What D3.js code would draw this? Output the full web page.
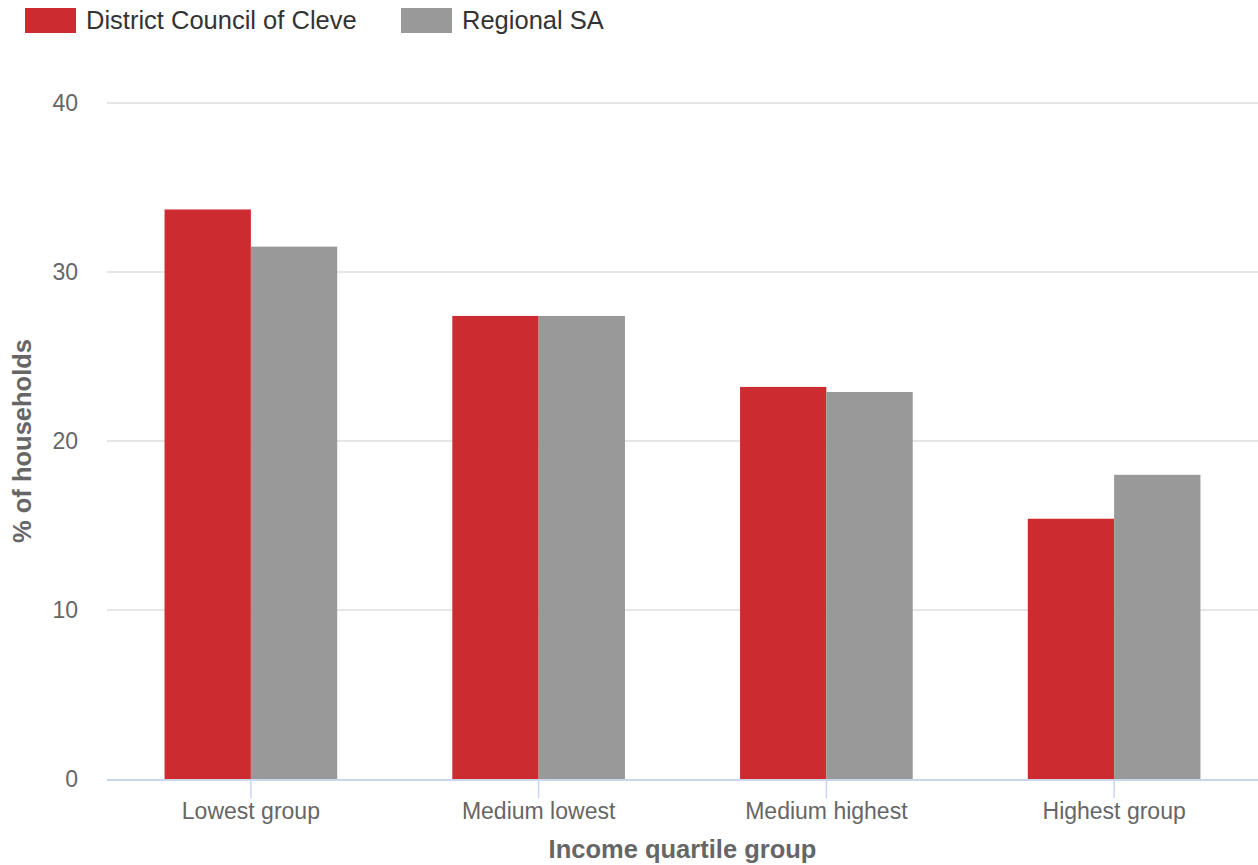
<!DOCTYPE html>
<html>
<head>
<meta charset="utf-8">
<script src="https://cdn.jsdelivr.net/npm/d3@7"></script>
<style>
  body { margin: 0; background: #fff; }
  svg { font-family: "Liberation Sans", Arial, sans-serif; }
</style>
</head>
<body>
<div id="chart"></div>
<script>
const categories = ["Lowest group", "Medium lowest", "Medium highest", "Highest group"];
const seriesNames = ["District Council of Cleve", "Regional SA"];
const cleveValues = [33.7, 27.4, 23.2, 15.4];
const regionalValues = [31.5, 27.4, 22.9, 18.0];
const yTicks = [0, 10, 20, 30, 40];
const colors = ["#cc2b30", "#999999"];

const width = 1258, height = 865;
const margin = { top: 103, right: 0, bottom: 86, left: 107 };

const svg = d3.select("#chart").append("svg")
    .attr("width", width)
    .attr("height", height);

const x = d3.scaleBand().domain(categories)
    .range([margin.left, width - margin.right])
    .paddingInner(0).paddingOuter(0);
const xInner = d3.scaleBand().domain(seriesNames)
    .range([x.bandwidth() * 0.2, x.bandwidth() * 0.8]);
const y = d3.scaleLinear().domain([0, 40]).range([height - margin.bottom, margin.top]);

// gridlines
svg.append("g").selectAll("line").data(yTicks.filter(d => d > 0)).join("line")
    .attr("x1", margin.left).attr("x2", width - margin.right)
    .attr("y1", d => y(d)).attr("y2", d => y(d))
    .attr("stroke", "#e6e6e6").attr("stroke-width", 2);

// y labels
svg.append("g").selectAll("text").data(yTicks).join("text")
    .attr("x", 78).attr("y", d => y(d) + 8)
    .attr("text-anchor", "end")
    .attr("font-size", 23).attr("fill", "#666666")
    .text(d => d);

// bars
const data = categories.map((c, i) => ({ cat: c, vals: [cleveValues[i], regionalValues[i]] }));
const groups = svg.append("g").selectAll("g").data(data).join("g")
    .attr("transform", d => `translate(${x(d.cat)},0)`);
groups.selectAll("rect").data(d => d.vals.map((v, j) => ({ v, s: seriesNames[j], j }))).join("rect")
    .attr("x", d => xInner(d.s))
    .attr("width", xInner.bandwidth())
    .attr("y", d => y(d.v))
    .attr("height", d => y(0) - y(d.v))
    .attr("fill", d => colors[d.j]);

// x axis line and ticks
svg.append("line")
    .attr("x1", margin.left).attr("x2", width - margin.right)
    .attr("y1", y(0) + 1).attr("y2", y(0) + 1)
    .attr("stroke", "#ccd6eb").attr("stroke-width", 2);
svg.append("g").selectAll("line").data(categories).join("line")
    .attr("x1", d => x(d) + x.bandwidth() / 2).attr("x2", d => x(d) + x.bandwidth() / 2)
    .attr("y1", y(0)).attr("y2", y(0) + 19)
    .attr("stroke", "#ccd6eb").attr("stroke-width", 1.5);
svg.append("g").selectAll("text").data(categories).join("text")
    .attr("x", d => x(d) + x.bandwidth() / 2).attr("y", 819)
    .attr("text-anchor", "middle")
    .attr("font-size", 23).attr("fill", "#666666")
    .text(d => d);

// axis titles
svg.append("text")
    .attr("x", (margin.left + width) / 2).attr("y", 858)
    .attr("text-anchor", "middle")
    .attr("font-size", 25.5).attr("font-weight", "bold").attr("fill", "#666666")
    .text("Income quartile group");
svg.append("text")
    .attr("transform", `translate(31,${(margin.top + height - margin.bottom) / 2}) rotate(-90)`)
    .attr("text-anchor", "middle")
    .attr("font-size", 25.5).attr("font-weight", "bold").attr("fill", "#666666")
    .text("% of households");

// legend
const legendX = [25, 401];
const legend = svg.append("g").selectAll("g").data(seriesNames).join("g")
    .attr("transform", (d, i) => `translate(${legendX[i]},8)`);
legend.append("rect")
    .attr("width", 51).attr("height", 25)
    .attr("fill", (d, i) => colors[i]);
legend.append("text")
    .attr("x", 61).attr("y", 21)
    .attr("font-size", 25.5).attr("fill", "#333333")
    .text(d => d);
</script>
</body>
</html>
